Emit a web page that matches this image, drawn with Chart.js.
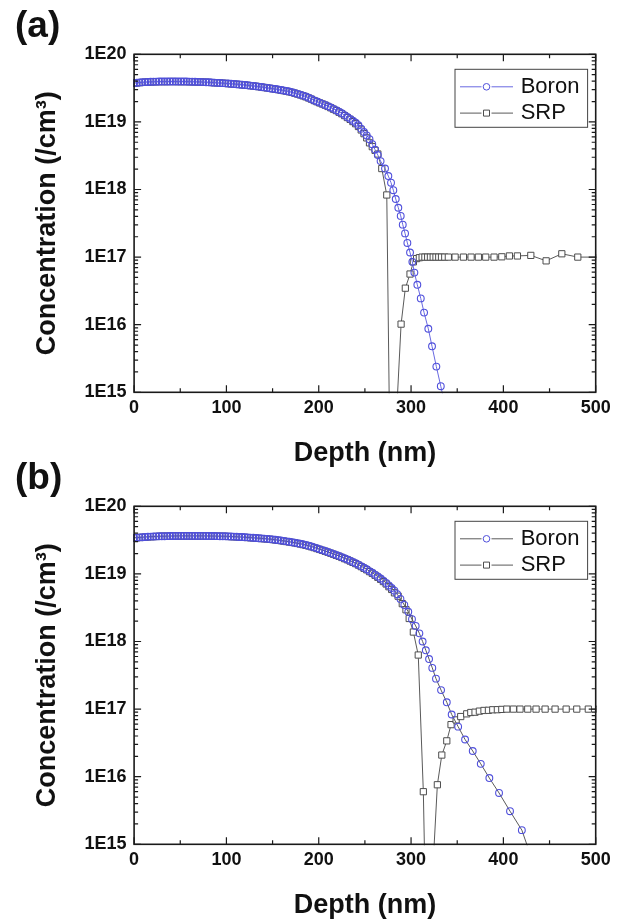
<!DOCTYPE html>
<html>
<head>
<meta charset="utf-8">
<script src="https://cdn.jsdelivr.net/npm/chart.js@4.4.0/dist/chart.umd.min.js"></script>
<style>
  html, body { margin: 0; padding: 0; background: #fff; }
  #wrap { position: relative; width: 621px; height: 922px; overflow: hidden; }
  canvas { position: absolute; left: 0; }
  #panelA { top: 0; }
  #panelB { top: 452px; }
</style>
</head>
<body>
<div id="wrap">
  <canvas id="panelA" width="621" height="470"></canvas>
  <canvas id="panelB" width="621" height="470"></canvas>
</div>
<script>
const FONT = "'Liberation Sans', Arial, Helvetica, sans-serif";

// axes
const xTickValues = [0, 100, 200, 300, 400, 500];
const xTickLabels = ['0', '100', '200', '300', '400', '500'];
const yTickValues = [1e15, 1e16, 1e17, 1e18, 1e19, 1e20];
const yTickLabels = ['1E15', '1E16', '1E17', '1E18', '1E19', '1E20'];
const seriesNames = ['Boron', 'SRP'];

// depth grid (nm) for the dense part of every profile
const gridDepth = [0, 3, 6, 9, 12, 15, 18, 21, 24, 27, 30, 33, 36, 39, 42, 45, 48, 51, 54, 57,
  60, 63, 66, 69, 72, 75, 78, 81, 84, 87, 90, 93, 96, 99, 102, 105, 108, 111, 114, 117,
  120, 123, 126, 129, 132, 135, 138, 141, 144, 147, 150, 153, 156, 159, 162, 165, 168, 171, 174, 177,
  180, 183, 186, 189, 192, 195, 198, 201, 204, 207, 210, 213, 216, 219, 222, 225, 228, 231, 234, 237,
  240, 243, 246, 249, 252, 255, 258, 261, 264, 267, 270, 273, 276, 279, 282];

// (a) Boron (/cm3)
const boronAGrid = [3.76e19, 3.79e19, 3.83e19, 3.85e19, 3.88e19, 3.90e19, 3.92e19, 3.93e19, 3.94e19, 3.95e19,
  3.95e19, 3.95e19, 3.95e19, 3.96e19, 3.96e19, 3.96e19, 3.95e19, 3.95e19, 3.95e19, 3.95e19,
  3.94e19, 3.93e19, 3.92e19, 3.91e19, 3.90e19, 3.88e19, 3.86e19, 3.85e19, 3.83e19, 3.81e19,
  3.78e19, 3.77e19, 3.74e19, 3.72e19, 3.69e19, 3.66e19, 3.64e19, 3.61e19, 3.58e19, 3.55e19,
  3.52e19, 3.48e19, 3.44e19, 3.41e19, 3.37e19, 3.33e19, 3.28e19, 3.24e19, 3.19e19, 3.15e19,
  3.10e19, 3.06e19, 3.01e19, 2.96e19, 2.92e19, 2.86e19, 2.81e19, 2.74e19, 2.67e19, 2.60e19,
  2.52e19, 2.45e19, 2.37e19, 2.28e19, 2.18e19, 2.08e19, 2.00e19, 1.93e19, 1.85e19, 1.78e19,
  1.71e19, 1.63e19, 1.56e19, 1.49e19, 1.41e19, 1.34e19, 1.26e19, 1.18e19, 1.11e19, 1.04e19,
  9.73e18, 8.91e18, 7.94e18, 7.08e18, 6.31e18, 5.56e18, 4.68e18, 3.89e18, 3.24e18, 2.63e18];
const boronATailDepth = [271.8, 275.4, 278.3, 280.8, 283.4, 286.2, 288.8, 291.0, 293.5, 296.0,
  298.9, 301.4, 303.6, 306.8, 310.5, 314.1, 318.7, 322.7, 327.4, 332.2, 337.0];
const boronATail = [2.04e18, 1.58e18, 1.26e18, 9.77e17, 7.24e17, 5.37e17, 4.07e17, 3.02e17, 2.24e17, 1.62e17,
  1.17e17, 8.51e16, 5.9e16, 3.89e16, 2.45e16, 1.51e16, 8.71e15, 4.79e15, 2.40e15, 1.23e15, 6.3e14];

// (a) SRP (/cm3)
const srpAGrid = [3.72e19, 3.78e19, 3.81e19, 3.84e19, 3.87e19, 3.89e19, 3.90e19, 3.92e19, 3.93e19, 3.94e19,
  3.95e19, 3.94e19, 3.95e19, 3.95e19, 3.96e19, 3.95e19, 3.95e19, 3.94e19, 3.95e19, 3.94e19,
  3.93e19, 3.93e19, 3.91e19, 3.90e19, 3.89e19, 3.87e19, 3.86e19, 3.84e19, 3.82e19, 3.80e19,
  3.78e19, 3.76e19, 3.73e19, 3.71e19, 3.68e19, 3.66e19, 3.63e19, 3.60e19, 3.57e19, 3.54e19,
  3.51e19, 3.47e19, 3.44e19, 3.40e19, 3.36e19, 3.32e19, 3.27e19, 3.23e19, 3.18e19, 3.14e19,
  3.09e19, 3.05e19, 3.00e19, 2.95e19, 2.90e19, 2.85e19, 2.79e19, 2.73e19, 2.66e19, 2.58e19,
  2.51e19, 2.43e19, 2.35e19, 2.26e19, 2.17e19, 2.07e19, 1.99e19, 1.91e19, 1.84e19, 1.77e19,
  1.69e19, 1.62e19, 1.54e19, 1.47e19, 1.39e19, 1.32e19, 1.24e19, 1.16e19, 1.09e19, 1.01e19,
  9.40e18, 8.55e18, 7.60e18, 6.70e18, 5.80e18, 4.90e18, 4.30e18, 3.80e18, 3.35e18];
const srpATailDepth = [268.3, 273.7, 278.0, 289.2, 293.8, 298.9, 302.5, 306.0, 309.0, 312.0,
  315.0, 318.0, 321.0, 324.0, 327.0, 330.0, 333.0, 336.5, 340.4, 347.7,
  356.7, 365.0, 372.9, 380.9, 389.9, 398.3, 406.5, 415.2, 429.7, 446.3,
  463.3, 480.6, 505.0];
const srpATail = [2.04e18, 8.3e17, 1.0e13, 1.02e16, 3.47e16, 5.62e16, 8.51e16, 9.5e16, 9.8e16, 1.0e17,
  1.0e17, 1.0e17, 1.0e17, 1.0e17, 1.0e17, 1.0e17, 1.0e17, 1.0e17, 1.0e17, 1.0e17,
  1.0e17, 1.0e17, 1.0e17, 1.0e17, 1.0e17, 1.01e17, 1.04e17, 1.04e17, 1.06e17, 8.8e16,
  1.12e17, 1.0e17, 1.0e17];

// (b) Boron (/cm3)
const boronBGrid = [3.42e19, 3.44e19, 3.47e19, 3.49e19, 3.52e19, 3.54e19, 3.56e19, 3.57e19, 3.59e19, 3.60e19,
  3.61e19, 3.61e19, 3.62e19, 3.63e19, 3.64e19, 3.64e19, 3.65e19, 3.65e19, 3.65e19, 3.65e19,
  3.65e19, 3.65e19, 3.65e19, 3.65e19, 3.65e19, 3.65e19, 3.64e19, 3.64e19, 3.63e19, 3.63e19,
  3.62e19, 3.61e19, 3.61e19, 3.60e19, 3.59e19, 3.57e19, 3.56e19, 3.54e19, 3.52e19, 3.51e19,
  3.48e19, 3.47e19, 3.44e19, 3.42e19, 3.40e19, 3.37e19, 3.35e19, 3.33e19, 3.30e19, 3.27e19,
  3.24e19, 3.20e19, 3.16e19, 3.12e19, 3.08e19, 3.03e19, 2.99e19, 2.94e19, 2.90e19, 2.84e19,
  2.79e19, 2.74e19, 2.67e19, 2.61e19, 2.54e19, 2.47e19, 2.39e19, 2.32e19, 2.25e19, 2.18e19,
  2.11e19, 2.04e19, 1.97e19, 1.90e19, 1.84e19, 1.77e19, 1.70e19, 1.64e19, 1.57e19, 1.50e19,
  1.44e19, 1.37e19, 1.30e19, 1.23e19, 1.17e19, 1.10e19, 1.04e19, 9.75e18, 9.14e18, 8.55e18,
  7.94e18, 7.35e18, 6.76e18, 6.19e18, 5.65e18];
const boronBTailDepth = [285.0, 288.5, 292.7, 297.0, 301.0, 305.0, 309.0, 312.5, 316.0, 319.5,
  323.0, 327.0, 332.5, 338.7, 344.0, 351.0, 358.5, 366.8, 375.5, 384.8,
  395.3, 407.2, 420.0, 433.0];
const boronBTail = [5.01e18, 4.27e18, 3.47e18, 2.75e18, 2.14e18, 1.70e18, 1.32e18, 1.00e18, 7.41e17, 5.50e17,
  4.07e17, 2.82e17, 1.91e17, 1.26e17, 8.32e16, 5.50e16, 3.55e16, 2.40e16, 1.55e16, 9.55e15,
  5.75e15, 3.09e15, 1.62e15, 5.0e14];

// (b) SRP (/cm3)
const srpBGrid = [3.38e19, 3.43e19, 3.45e19, 3.48e19, 3.50e19, 3.53e19, 3.55e19, 3.56e19, 3.58e19, 3.59e19,
  3.60e19, 3.61e19, 3.61e19, 3.62e19, 3.63e19, 3.63e19, 3.64e19, 3.64e19, 3.64e19, 3.65e19,
  3.64e19, 3.64e19, 3.64e19, 3.64e19, 3.64e19, 3.63e19, 3.63e19, 3.63e19, 3.62e19, 3.62e19,
  3.61e19, 3.60e19, 3.60e19, 3.59e19, 3.58e19, 3.56e19, 3.55e19, 3.53e19, 3.51e19, 3.49e19,
  3.47e19, 3.45e19, 3.43e19, 3.41e19, 3.38e19, 3.36e19, 3.33e19, 3.31e19, 3.28e19, 3.25e19,
  3.22e19, 3.18e19, 3.14e19, 3.10e19, 3.06e19, 3.01e19, 2.97e19, 2.92e19, 2.88e19, 2.82e19,
  2.77e19, 2.71e19, 2.65e19, 2.59e19, 2.52e19, 2.45e19, 2.37e19, 2.30e19, 2.23e19, 2.16e19,
  2.09e19, 2.02e19, 1.95e19, 1.88e19, 1.82e19, 1.75e19, 1.68e19, 1.62e19, 1.55e19, 1.48e19,
  1.42e19, 1.35e19, 1.28e19, 1.21e19, 1.15e19, 1.08e19, 1.02e19, 9.55e18, 8.91e18, 8.32e18,
  7.70e18, 7.10e18, 6.46e18, 5.89e18, 5.25e18];
const srpBTailDepth = [286.0, 290.5, 294.5, 298.0, 302.5, 307.8, 313.3, 317.2, 328.5, 333.3,
  338.7, 343.3, 348.8, 353.8, 360.3, 364.7, 369.3, 374.0, 379.0, 383.8,
  388.5, 393.5, 398.3, 403.7, 410.8, 418.0, 426.4, 435.4, 445.2, 456.0,
  468.0, 479.5, 492.0, 504.0];
const srpBTail = [4.68e18, 3.63e18, 2.95e18, 2.19e18, 1.38e18, 6.31e17, 6.0e15, 1.0e13, 7.6e15, 2.09e16,
  3.39e16, 5.89e16, 6.92e16, 7.76e16, 8.51e16, 8.91e16, 9.0e16, 9.33e16, 9.55e16, 9.6e16,
  9.77e16, 9.8e16, 9.9e16, 1.0e17, 1.0e17, 1.0e17, 1.0e17, 1.0e17, 1.0e17, 1.0e17,
  1.0e17, 1.0e17, 1.0e17, 1.0e17];

const BORON_MARK = 'rgb(80, 80, 220)';
const SRP_MARK = '#4d4d4d';
const SRP_LINE = '#5a5a5a';

function toPoints(depths, values) {
  return values.map((v, i) => ({ x: depths[i], y: v }));
}

// frame, inward ticks, legend box and panel letter
const framePlugin = {
  id: 'frame',
  afterDatasetsDraw(chart, args, opts) {
    const { ctx, chartArea: a } = chart;
    const x = chart.scales.x, y = chart.scales.y;
    ctx.save();
    ctx.strokeStyle = '#1a1a1a';
    ctx.lineWidth = 1.2;
    ctx.beginPath();
    const vTick = (px, len) => {
      ctx.moveTo(px, a.bottom); ctx.lineTo(px, a.bottom - len);
      ctx.moveTo(px, a.top); ctx.lineTo(px, a.top + len);
    };
    const hTick = (py, len) => {
      ctx.moveTo(a.left, py); ctx.lineTo(a.left + len, py);
      ctx.moveTo(a.right, py); ctx.lineTo(a.right - len, py);
    };
    xTickValues.forEach((v, i) => {
      vTick(x.getPixelForValue(v), 7);
      if (i < xTickValues.length - 1) vTick(x.getPixelForValue((v + xTickValues[i + 1]) / 2), 4);
    });
    yTickValues.forEach((v, i) => {
      hTick(y.getPixelForValue(v), 7);
      if (i < yTickValues.length - 1) {
        for (let m = 2; m < 10; m++) hTick(y.getPixelForValue(v * m), 4);
      }
    });
    ctx.stroke();
    ctx.lineWidth = 1.6;
    ctx.strokeRect(a.left, a.top, a.right - a.left, a.bottom - a.top);

    // legend
    const bx = a.right - 140.7, by = a.top + 15, bw = 132.6, bh = 58;
    ctx.fillStyle = '#fff';
    ctx.fillRect(bx, by, bw, bh);
    ctx.strokeStyle = '#444';
    ctx.lineWidth = 1;
    ctx.strokeRect(bx, by, bw, bh);
    chart.data.datasets.forEach((ds, i) => {
      const ry = by + (i === 0 ? 17.5 : 43.8);
      const mx = bx + 31.5;
      ctx.strokeStyle = ds.borderColor;
      ctx.lineWidth = 1;
      ctx.beginPath();
      ctx.moveTo(bx + 5, ry); ctx.lineTo(mx - 5, ry);
      ctx.moveTo(mx + 5, ry); ctx.lineTo(bx + 58, ry);
      ctx.stroke();
      ctx.strokeStyle = ds.pointBorderColor;
      ctx.beginPath();
      if (ds.pointStyle === 'circle') {
        ctx.arc(mx, ry, 3.3, 0, Math.PI * 2);
      } else {
        ctx.rect(mx - 3, ry - 3, 6, 6);
      }
      ctx.stroke();
      ctx.fillStyle = '#111';
      ctx.font = '22px ' + FONT;
      ctx.textAlign = 'left';
      ctx.textBaseline = 'middle';
      ctx.fillText(ds.label, bx + 65.7, ry);
    });

    // panel letter
    ctx.fillStyle = '#111';
    ctx.font = 'bold 37px ' + FONT;
    ctx.textAlign = 'left';
    ctx.textBaseline = 'alphabetic';
    ctx.fillText(opts.label, 15, 37);
    ctx.restore();
  }
};

function makePanel(id, label, boron, srp, boronLine) {
  const tickFont = { family: FONT, size: 18, weight: 'bold' };
  const titleFont = { family: FONT, size: 27, weight: 'bold' };
  return new Chart(document.getElementById(id), {
    type: 'line',
    data: {
      datasets: [{
        label: seriesNames[0],
        data: boron,
        borderColor: boronLine,
        borderWidth: 1,
        pointStyle: 'circle',
        pointRadius: 3.4,
        pointBorderWidth: 1.1,
        pointBorderColor: BORON_MARK,
        pointBackgroundColor: 'rgba(255,255,255,0)',
        tension: 0,
        clip: 1,
        order: 0
      }, {
        label: seriesNames[1],
        data: srp,
        borderColor: SRP_LINE,
        borderWidth: 1,
        pointStyle: 'rect',
        pointRadius: 4.4,
        pointBorderWidth: 1,
        pointBorderColor: SRP_MARK,
        pointBackgroundColor: '#fff',
        tension: 0,
        clip: 1,
        order: 1
      }]
    },
    options: {
      responsive: false,
      animation: false,
      devicePixelRatio: 1,
      events: [],
      layout: { padding: { top: 54.3, right: 25.3, bottom: 0, left: 0 } },
      scales: {
        x: {
          type: 'linear',
          min: 0,
          max: 500,
          afterFit: s => { s.height = 77.7; },
          afterBuildTicks: s => { s.ticks = xTickValues.map(v => ({ value: v })); },
          grid: { display: false, drawTicks: false },
          border: { display: false },
          ticks: {
            padding: 5.2,
            font: tickFont,
            color: '#111',
            maxRotation: 0,
            autoSkip: false,
            callback: (v, i) => xTickLabels[i]
          },
          title: {
            display: true,
            text: 'Depth (nm)',
            font: titleFont,
            color: '#111',
            padding: { top: 0, bottom: 0 }
          }
        },
        y: {
          type: 'logarithmic',
          min: 1e15,
          max: 1e20,
          afterFit: s => { s.width = 134.1; },
          afterBuildTicks: s => { s.ticks = yTickValues.map(v => ({ value: v })); },
          grid: { display: false, drawTicks: false },
          border: { display: false },
          ticks: {
            padding: 7.6,
            font: tickFont,
            color: '#111',
            autoSkip: false,
            callback: (v, i) => yTickLabels[i]
          },
          title: {
            display: true,
            text: 'Concentration (/cm³)',
            font: titleFont,
            color: '#111',
            padding: { top: 31.8, bottom: 0 }
          }
        }
      },
      plugins: {
        legend: { display: false },
        tooltip: { enabled: false },
        frame: { label: label }
      }
    },
    plugins: [framePlugin]
  });
}

makePanel('panelA', '(a)',
  toPoints(gridDepth, boronAGrid).concat(toPoints(boronATailDepth, boronATail)),
  toPoints(gridDepth, srpAGrid).concat(toPoints(srpATailDepth, srpATail)),
  'rgb(105, 105, 225)');

makePanel('panelB', '(b)',
  toPoints(gridDepth, boronBGrid).concat(toPoints(boronBTailDepth, boronBTail)),
  toPoints(gridDepth, srpBGrid).concat(toPoints(srpBTailDepth, srpBTail)),
  '#5a5a5a');
</script>
</body>
</html>
